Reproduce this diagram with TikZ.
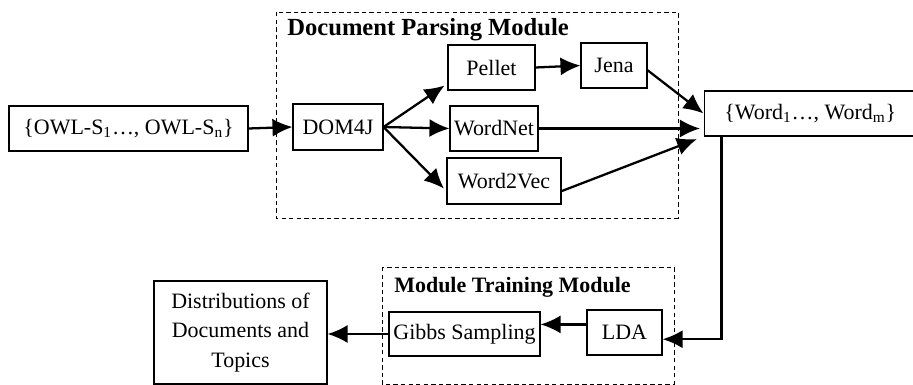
\documentclass[tikz,border=0pt]{standalone}
\usepackage{fontspec}
\setmainfont{Liberation Serif}
\usetikzlibrary{arrows.meta, positioning, calc}

\tikzset{
  blk/.style={draw, line width=0.6pt, inner sep=0pt, align=center},
  grp/.style={draw, line width=0.5pt, dash pattern=on 2.5pt off 1.8pt},
  arr/.style={-{Latex[length=4mm,width=3.6mm]}, line width=1.3pt},
  ttl/.style={anchor=west, inner sep=0pt, font=\bfseries\fontsize{14}{15}\selectfont},
}

\begin{document}
\begin{tikzpicture}[x=0.02cm, y=-0.02cm, font=\fontsize{12.5}{17}\selectfont]
  \useasboundingbox (0,0) rectangle (913,385);
  \clip (0,0) rectangle (913,385);
  % the two modules (dashed frames)
  \draw[grp] (276,12) rectangle (678,218);
  \node[ttl] (ptitle) at (287,30) {Document Parsing Module};
  \draw[grp] (382,267) rectangle (674,384);
  \node[ttl, font=\bfseries\fontsize{12.5}{15}\selectfont] (ttitle) at (394,287) {Module Training Module};
  % blocks
  \node[blk, minimum width=4.78cm, minimum height=0.9cm] (owl) at (128.5,128.5) {\{OWL-S\textsubscript{1}\ldots, OWL-S\textsubscript{n}\}};
  \node[blk, minimum width=1.8cm, minimum height=0.92cm] (dom) at (338,127) {DOM4J};
  \node[blk, minimum width=1.74cm, minimum height=0.9cm] (pellet) at (491.5,67.5) {Pellet};
  \node[blk, minimum width=1.32cm, minimum height=0.9cm] (jena) at (614,65.5) {Jena};
  \node[blk, minimum width=1.76cm, minimum height=0.9cm] (wordnet) at (494,128.5) {WordNet};
  \node[blk, minimum width=2.28cm, minimum height=0.92cm] (w2v) at (504,181) {Word2Vec};
  \node[blk, minimum width=4.6cm, minimum height=0.9cm] (words) at (819,113.5) {\{Word\textsubscript{1}\ldots, Word\textsubscript{m}\}\hspace{0.35cm}};
  \node[blk, minimum width=3.46cm, minimum height=2.06cm] (dist) at (240.5,332.5) {Distributions of\\Documents and\\Topics};
  \node[blk, minimum width=3.02cm, minimum height=0.88cm] (gibbs) at (464.5,334) {Gibbs Sampling};
  \node[blk, minimum width=1.5cm, minimum height=0.9cm] (lda) at (624.5,332.5) {LDA};
  % parsing flow
  \draw[arr] (owl.east) -- (dom.west);
  \draw[arr, shorten >=2pt] (dom.east) -- (pellet.200);
  \draw[arr] (dom.east) -- (wordnet.west);
  \draw[arr, shorten >=2pt] (dom.east) -- (w2v.190);
  \draw[arr] (pellet.east) -- (jena.west);
  \draw[arr] (jena.-8) -- (words.west);
  \draw[arr, shorten >=2pt] (wordnet.east) -- (wordnet.east -| words.west);
  \draw[arr, shorten >=4pt] (w2v.-10) -- (words.south west);
  % training flow
  \draw[arr] ([xshift=0.36cm]words.south west) |- (lda.-10);
  \draw[arr] (lda.168) -- (lda.168 -| gibbs.east);
  \draw[arr] (gibbs.west) -- (gibbs.west -| dist.east);
\end{tikzpicture}
\end{document}
